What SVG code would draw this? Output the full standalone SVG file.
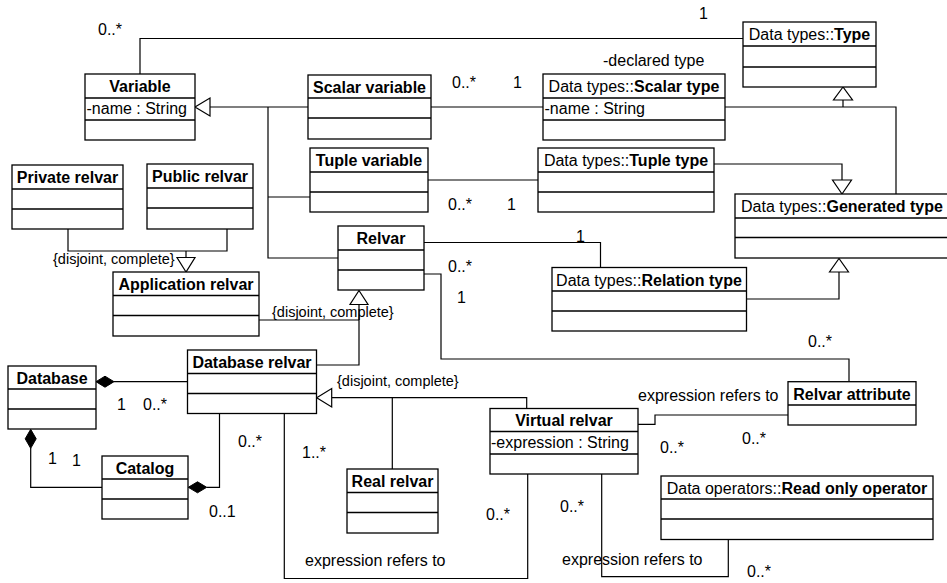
<svg xmlns="http://www.w3.org/2000/svg" width="947" height="583" viewBox="0 0 947 583">
  <style>
    text { font-family: "Liberation Sans", Arial, Helvetica, sans-serif; font-size: 16px; fill: #000; }
    .box { fill: #fff; stroke: #000; stroke-width: 1.3; }
    .div { stroke: #000; stroke-width: 1.3; fill: none; }
    .hd { text-anchor: middle; }
    .b { font-weight: bold; }
    .lbl { font-size: 16px; }
    .cons { font-size: 14.5px; }
    .edge { fill: none; stroke: #000; stroke-width: 1.2; }
    .gen { fill: #fff; stroke: #000; stroke-width: 1.2; }
    .comp { fill: #000; stroke: #000; stroke-width: 1; }
  </style>

  <rect width="947" height="583" fill="#fff"/>

  <!-- connectors -->
  <g id="connectors">
    <!-- Variable to Type -->
    <path class="edge" d="M140 74 V38.5 H743"/>
    <!-- specialisations of Variable -->
    <path class="edge" d="M308 107 H210 M268 107 V258 H338 M268 197 H310"/>
    <polygon class="gen" points="195,107 210,98 210,116"/>
    <!-- variable to declared type -->
    <path class="edge" d="M431 107 H543"/>
    <path class="edge" d="M428 180 H538"/>
    <!-- type hierarchy -->
    <path class="edge" d="M725 107 H896 V194 M843 107 V100"/>
    <polygon class="gen" points="843,87 833.5,100 852.5,100"/>
    <path class="edge" d="M714 164 H842 V180"/>
    <polygon class="gen" points="842,194 832.5,180 851.5,180"/>
    <path class="edge" d="M746.5 299 H839 V272"/>
    <polygon class="gen" points="839,258.5 829.5,272 848.5,272"/>
    <!-- Relvar associations -->
    <path class="edge" d="M424 242.5 H600.5 V267.5"/>
    <path class="edge" d="M424 274 H441 V359 H849 V381.7"/>
    <!-- Private / Public to Application relvar -->
    <path class="edge" d="M68 229 V251 H227 V229 M186 251 V257.5"/>
    <polygon class="gen" points="186,272 177,257.5 195,257.5"/>
    <!-- Application / Database relvar to Relvar -->
    <path class="edge" d="M259 320 H359 M316.5 365 H359 V304.5"/>
    <polygon class="gen" points="359,290.5 350,304.5 368,304.5"/>
    <!-- Database composition -->
    <path class="edge" d="M114 381.7 H187.5"/>
    <polygon class="comp" points="96,381.7 105,376.2 114,381.7 105,387.2"/>
    <path class="edge" d="M30.7 448 V487.3 H102"/>
    <polygon class="comp" points="30.7,429.3 36.2,438.8 30.7,448.3 25.2,438.8"/>
    <path class="edge" d="M206.7 487.3 H219.5 V413.5"/>
    <polygon class="comp" points="188.3,487.3 197.5,481.8 206.7,487.3 197.5,492.8"/>
    <!-- Real / Virtual to Database relvar -->
    <path class="edge" d="M331.7 397.7 H526.7 V408.5 M392.3 397.7 V469"/>
    <polygon class="gen" points="316.7,397.7 331.7,388.5 331.7,406.9"/>
    <!-- expression references -->
    <path class="edge" d="M284.3 413.5 V578.5 H527.7 V474"/>
    <path class="edge" d="M638 424.3 H655 V415 H788"/>
    <path class="edge" d="M601.7 474 V576.7 H728.3 V539.5"/>
  </g>

  <!-- connector labels -->
  <g id="labels">
    <text x="98" y="35">0..*</text>
    <text x="699" y="19">1</text>
    <text x="603" y="66">-declared type</text>
    <text x="452" y="88">0..*</text>
    <text x="513" y="88">1</text>
    <text x="448" y="210">0..*</text>
    <text x="507" y="210">1</text>
    <text class="cons" x="53" y="264">{disjoint, complete}</text>
    <text x="576" y="241.5">1</text>
    <text x="448" y="271.5">0..*</text>
    <text x="457" y="303">1</text>
    <text class="cons" x="272" y="317">{disjoint, complete}</text>
    <text x="808" y="346.5">0..*</text>
    <text class="cons" x="337" y="386">{disjoint, complete}</text>
    <text x="638" y="400.5">expression refers to</text>
    <text x="117" y="410">1</text>
    <text x="143" y="410">0..*</text>
    <text x="742" y="443.5">0..*</text>
    <text x="660" y="453">0..*</text>
    <text x="238" y="446.7">0..*</text>
    <text x="302" y="458.3">1..*</text>
    <text x="48" y="463.5">1</text>
    <text x="72" y="465.5">1</text>
    <text x="209" y="516.7">0..1</text>
    <text x="486" y="520">0..*</text>
    <text x="560" y="511.7">0..*</text>
    <text x="305" y="565.5">expression refers to</text>
    <text x="562" y="564.5">expression refers to</text>
    <text x="747" y="576.7">0..*</text>
  </g>

  <!-- classes -->
  <g id="variable">
    <rect class="box" x="85" y="74" width="110" height="66"/>
    <path class="div" d="M85 98 H195 M85 120 H195"/>
    <text class="hd b" x="140" y="92">Variable</text>
    <text x="86.5" y="114">-name : String</text>
  </g>

  <g id="scalar-variable">
    <rect class="box" x="308" y="75" width="123" height="64"/>
    <path class="div" d="M308 98 H431 M308 118 H431"/>
    <text class="hd b" x="369.5" y="93">Scalar variable</text>
  </g>

  <g id="tuple-variable">
    <rect class="box" x="310" y="148" width="118" height="64"/>
    <path class="div" d="M310 172 H428 M310 192 H428"/>
    <text class="hd b" x="369" y="166">Tuple variable</text>
  </g>

  <g id="private-relvar">
    <rect class="box" x="12" y="165" width="111" height="64"/>
    <path class="div" d="M12 189 H123 M12 209 H123"/>
    <text class="hd b" x="67.5" y="183">Private relvar</text>
  </g>

  <g id="public-relvar">
    <rect class="box" x="147" y="164" width="106" height="65"/>
    <path class="div" d="M147 188 H253 M147 208 H253"/>
    <text class="hd b" x="200" y="182">Public relvar</text>
  </g>

  <g id="application-relvar">
    <rect class="box" x="113" y="272" width="146" height="64"/>
    <path class="div" d="M113 295.5 H259 M113 315.5 H259"/>
    <text class="hd b" x="186" y="290">Application relvar</text>
  </g>

  <g id="relvar">
    <rect class="box" x="338" y="226" width="86" height="64"/>
    <path class="div" d="M338 250 H424 M338 270 H424"/>
    <text class="hd b" x="381" y="244">Relvar</text>
  </g>

  <g id="type">
    <rect class="box" x="743" y="22" width="133" height="65"/>
    <path class="div" d="M743 46 H876 M743 67 H876"/>
    <text class="hd" x="809.5" y="40">Data types::<tspan class="b">Type</tspan></text>
  </g>

  <g id="scalar-type">
    <rect class="box" x="543" y="74" width="182" height="66"/>
    <path class="div" d="M543 98 H725 M543 120 H725"/>
    <text class="hd" x="634" y="92">Data types::<tspan class="b">Scalar type</tspan></text>
    <text x="544.5" y="114">-name : String</text>
  </g>

  <g id="tuple-type">
    <rect class="box" x="538" y="148" width="176" height="64"/>
    <path class="div" d="M538 172 H714 M538 192 H714"/>
    <text class="hd" x="626" y="166">Data types::<tspan class="b">Tuple type</tspan></text>
  </g>

  <g id="generated-type">
    <rect class="box" x="735" y="194" width="215" height="64"/>
    <path class="div" d="M735 218 H950 M735 237.5 H950"/>
    <text class="hd" x="842" y="212">Data types::<tspan class="b">Generated type</tspan></text>
  </g>

  <g id="relation-type">
    <rect class="box" x="552" y="267.5" width="194.5" height="63.5"/>
    <path class="div" d="M552 291 H746.5 M552 311 H746.5"/>
    <text class="hd" x="649" y="285.5">Data types::<tspan class="b">Relation type</tspan></text>
  </g>

  <g id="database">
    <rect class="box" x="8" y="366" width="88" height="63"/>
    <path class="div" d="M8 389 H96 M8 409 H96"/>
    <text class="hd b" x="52" y="383.5">Database</text>
  </g>

  <g id="database-relvar">
    <rect class="box" x="187.5" y="350" width="129" height="63.5"/>
    <path class="div" d="M187.5 373.5 H316.5 M187.5 393.5 H316.5"/>
    <text class="hd b" x="252" y="368">Database relvar</text>
  </g>

  <g id="catalog">
    <rect class="box" x="102" y="456" width="86" height="63"/>
    <path class="div" d="M102 479 H188 M102 499 H188"/>
    <text class="hd b" x="145" y="474">Catalog</text>
  </g>

  <g id="real-relvar">
    <rect class="box" x="347" y="469" width="91" height="64"/>
    <path class="div" d="M347 492.5 H438 M347 512.5 H438"/>
    <text class="hd b" x="392.5" y="487">Real relvar</text>
  </g>

  <g id="virtual-relvar">
    <rect class="box" x="490" y="408.5" width="148" height="65.5"/>
    <path class="div" d="M490 431.5 H638 M490 454 H638"/>
    <text class="hd b" x="564" y="426">Virtual relvar</text>
    <text x="491" y="448">-expression : String</text>
  </g>

  <g id="relvar-attribute">
    <rect class="box" x="788" y="381.7" width="128" height="43.3"/>
    <path class="div" d="M788 405 H916"/>
    <text class="hd b" x="852" y="399.5">Relvar attribute</text>
  </g>

  <g id="read-only-operator">
    <rect class="box" x="661" y="476" width="272" height="63.5"/>
    <path class="div" d="M661 499 H933 M661 519 H933"/>
    <text class="hd" x="797" y="494">Data operators::<tspan class="b">Read only operator</tspan></text>
  </g>
</svg>
